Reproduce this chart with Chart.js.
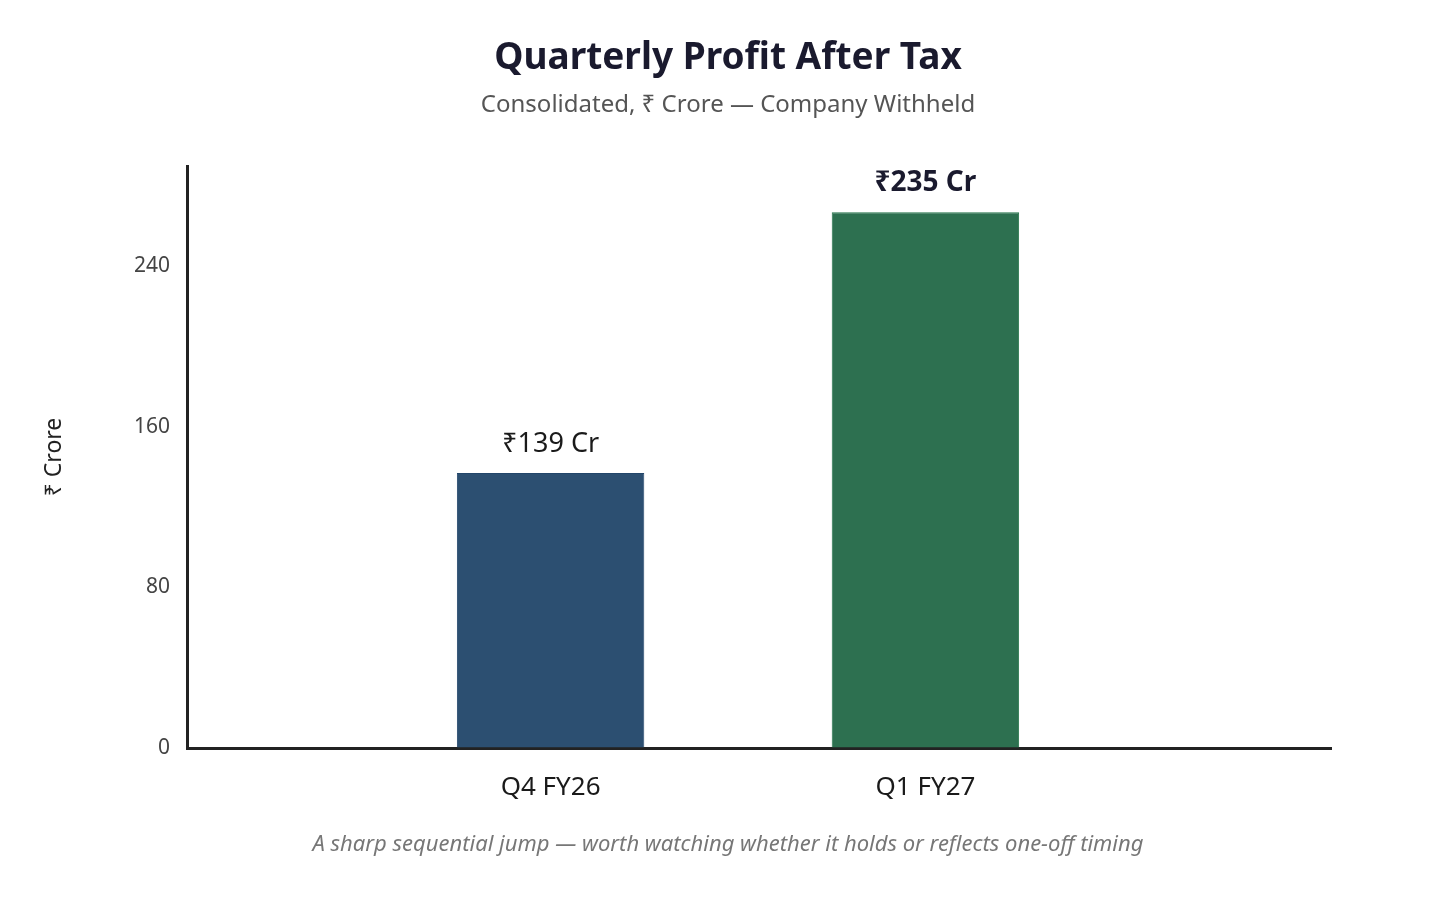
<!DOCTYPE html>
<html>
<head>
<meta charset="utf-8">
<script src="https://cdn.jsdelivr.net/npm/chart.js@4.4.1/dist/chart.umd.min.js"></script>
<style>
html,body{margin:0;padding:0;background:#fff;}
#wrap{position:relative;width:1456px;height:915px;overflow:hidden;font-family:"Noto Sans",sans-serif;}
#c{position:absolute;left:0;top:0;}
.t{position:absolute;left:0;width:1456px;text-align:center;white-space:nowrap;}
#title{top:36px;font-size:37px;line-height:37px;font-weight:700;color:#1a1a2e;}
#sub{top:91px;font-size:24px;line-height:24px;color:#555555;}
#foot{top:831px;font-size:22px;line-height:22px;font-style:italic;color:#777777;}
</style>
</head>
<body>
<div id="wrap">
<canvas id="c" width="1456" height="915"></canvas>
<div class="t" id="title">Quarterly Profit After Tax</div>
<div class="t" id="sub">Consolidated, ₹ Crore — Company Withheld</div>
<div class="t" id="foot">A sharp sequential jump — worth watching whether it holds or reflects one-off timing</div>
</div>
<script>
// ---- data ----
const categories = ['Q4 FY26', 'Q1 FY27'];
const barValues = [137, 267];          // bar heights as drawn on the ₹ Crore axis
const valueLabels = ['₹139 Cr', '₹235 Cr'];
const yTicks = [0, 80, 160, 240];
const yAxisMax = 290;
const yAxisTitle = '₹ Crore';

const barColors = ['#2c4f71', '#2d7050'];
const barBorders = ['#23466a', '#237449'];

const valueLabelPlugin = {
  id: 'valueLabels',
  afterDatasetsDraw(chart) {
    const ctx = chart.ctx;
    const meta = chart.getDatasetMeta(0);
    ctx.save();
    ctx.textAlign = 'center';
    ctx.textBaseline = 'alphabetic';
    meta.data.forEach((bar, i) => {
      const bold = i === 1;
      ctx.font = (bold ? '700 28px' : '400 27px') + ' "Noto Sans"';
      ctx.fillStyle = bold ? '#1a1a2e' : '#1a1a1a';
      ctx.fillText(valueLabels[i], bar.x, bar.y - 21);
    });
    ctx.restore();
  }
};

new Chart(document.getElementById('c'), {
  type: 'bar',
  data: {
    datasets: [{
      data: categories.map((c, i) => ({x: i, y: barValues[i]})),
      backgroundColor: barColors,
      borderColor: barBorders,
      borderWidth: 1,
      barPercentage: 0.5,
      categoryPercentage: 1.0
    }]
  },
  options: {
    responsive: false,
    animation: false,
    devicePixelRatio: 1,
    layout: {padding: {left: 41, top: 166, right: 125, bottom: 0}},
    plugins: {legend: {display: false}, tooltip: {enabled: false}, title: {display: false}},
    scales: {
      x: {
        type: 'linear',
        min: -0.97,
        max: 2.082,
        offset: false,
        afterFit(scale) { scale.height = 167; },
        afterBuildTicks(scale) { scale.ticks = categories.map((c, i) => ({value: i})); },
        grid: {display: true, color: 'rgba(0,0,0,0)', drawTicks: false},
        border: {display: true, color: '#222222', width: 3},
        ticks: {
          padding: 24,
          color: '#1a1a1a',
          font: {family: '"Noto Sans"', size: 26},
          callback: (v) => categories[v] !== undefined ? categories[v] : ''
        }
      },
      y: {
        type: 'linear',
        min: 0,
        max: yAxisMax,
        afterFit(scale) { scale.width = 146; },
        afterBuildTicks(scale) { scale.ticks = yTicks.map(v => ({value: v})); },
        grid: {display: true, color: 'rgba(0,0,0,0)', drawTicks: false},
        border: {display: true, color: '#222222', width: 3},
        title: {
          display: true,
          text: yAxisTitle,
          color: '#222222',
          font: {family: '"Noto Sans"', size: 23},
          padding: 0
        },
        ticks: {
          padding: 17,
          color: '#444444',
          font: {family: '"Noto Sans"', size: 21}
        }
      }
    }
  },
  plugins: [valueLabelPlugin]
});
</script>
</body>
</html>
